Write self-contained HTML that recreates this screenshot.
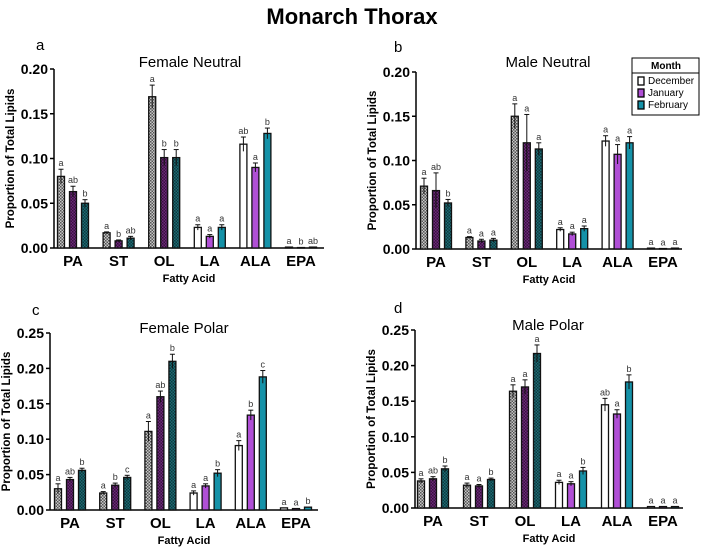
<!DOCTYPE html>
<html><head><meta charset="utf-8"><style>
html,body{margin:0;padding:0;background:#fff;}
svg{display:block;font-family:"Liberation Sans",Arial,sans-serif;}
</style></head><body>
<svg id="chart" width="704" height="548" viewBox="0 0 704 548">
<defs>
<pattern id="pDec" width="3" height="3" patternUnits="userSpaceOnUse"><rect width="3" height="3" fill="#c8c8c8"/><rect width="1.5" height="1.5" fill="#555"/><rect x="1.5" y="1.5" width="1.5" height="1.5" fill="#555"/></pattern>
<pattern id="pJan" width="3" height="3" patternUnits="userSpaceOnUse"><rect width="3" height="3" fill="#6a2a78"/><rect width="1.5" height="1.5" fill="#3a1040"/><rect x="1.5" y="1.5" width="1.5" height="1.5" fill="#3a1040"/></pattern>
<pattern id="pFeb" width="3" height="3" patternUnits="userSpaceOnUse"><rect width="3" height="3" fill="#1e6a72"/><rect width="1.5" height="1.5" fill="#0c3a40"/><rect x="1.5" y="1.5" width="1.5" height="1.5" fill="#0c3a40"/></pattern>
</defs>
<text x="352" y="24" text-anchor="middle" font-size="22" font-weight="bold">Monarch Thorax</text>
<g>
<rect x="632" y="58" width="67" height="57" fill="#fff" stroke="#000" stroke-width="1"/>
<line x1="632" y1="73" x2="699" y2="73" stroke="#000"/>
<text x="666" y="69" text-anchor="middle" font-size="10" font-weight="bold">Month</text>
<rect x="638" y="77" width="6" height="8" fill="#fff" stroke="#000" stroke-width="1.3"/>
<text x="648" y="84" font-size="10">December</text>
<rect x="638" y="89" width="6" height="8" fill="#b04fd6" stroke="#000" stroke-width="1.3"/>
<text x="648" y="96" font-size="10">January</text>
<rect x="638" y="101" width="6" height="8" fill="#1592a8" stroke="#000" stroke-width="1.3"/>
<text x="648" y="108" font-size="10">February</text>
</g>
</svg>
<script>
const categories = ["PA","ST","OL","LA","ALA","EPA"];
const months = ["December","January","February"];
const aVals = [[0.080,0.063,0.050],[0.017,0.008,0.011],[0.169,0.101,0.101],[0.023,0.013,0.023],[0.116,0.090,0.128],[0.001,0.0005,0.001]];
const aErr  = [[0.008,0.006,0.004],[0.001,0.001,0.002],[0.013,0.009,0.009],[0.003,0.002,0.003],[0.008,0.005,0.006],[0,0,0]];
const aLet  = [["a","ab","b"],["a","b","ab"],["a","b","b"],["a","a","a"],["ab","a","b"],["a","b","ab"]];
const bVals = [[0.071,0.066,0.052],[0.013,0.009,0.010],[0.150,0.120,0.113],[0.022,0.017,0.023],[0.122,0.107,0.120],[0.001,0.0005,0.001]];
const bErr  = [[0.009,0.020,0.004],[0.001,0.002,0.002],[0.014,0.032,0.007],[0.002,0.002,0.003],[0.006,0.011,0.007],[0,0,0]];
const bLet  = [["a","ab","b"],["a","a","a"],["a","a","a"],["a","a","a"],["a","a","a"],["a","a","a"]];
const cVals = [[0.030,0.043,0.056],[0.024,0.035,0.046],[0.111,0.160,0.210],[0.024,0.034,0.052],[0.091,0.134,0.188],[0.003,0.002,0.004]];
const cErr  = [[0.007,0.003,0.003],[0.002,0.003,0.003],[0.014,0.008,0.010],[0.003,0.003,0.005],[0.007,0.007,0.009],[0,0,0]];
const cLet  = [["a","ab","b"],["a","b","c"],["a","ab","b"],["a","a","b"],["a","b","c"],["a","a","b"]];
const dVals = [[0.038,0.041,0.055],[0.032,0.031,0.040],[0.164,0.170,0.217],[0.036,0.034,0.052],[0.145,0.132,0.177],[0.002,0.002,0.002]];
const dErr  = [[0.003,0.003,0.004],[0.003,0.002,0.002],[0.009,0.010,0.012],[0.003,0.003,0.005],[0.009,0.006,0.010],[0,0,0]];
const dLet  = [["a","ab","b"],["a","a","b"],["a","a","a"],["a","a","b"],["ab","a","b"],["a","a","a"]];
const ticksNeutral = [0,0.05,0.10,0.15,0.20];
const ticksPolar = [0,0.05,0.10,0.15,0.20,0.25];

const svg = document.getElementById('chart');
const NS = 'http://www.w3.org/2000/svg';
function mk(tag, attrs, parent){const e=document.createElementNS(NS,tag);for(const k in attrs)e.setAttribute(k,attrs[k]);(parent||svg).appendChild(e);return e;}

const satFill = ["url(#pDec)","url(#pJan)","url(#pFeb)"];
const unsatFill = ["#ffffff","#b04fd6","#1592a8"];

function panel(p){
  const g = mk('g',{});
  
  
  const y = v => p.y0 - (v/p.max)*(p.y0-p.yTop);
  const cx = i => p.x0 + p.off + p.step*i;
  const lt = mk('text',{x:p.lx,y:p.ly,'font-size':15},g); lt.textContent=p.letter;
  
  
  const tt = mk('text',{x:p.tx,y:p.ty,'font-size':15,'text-anchor':'middle'},g); tt.textContent=p.title;
  
  
  mk('line',{x1:p.x0,y1:p.yTop,x2:p.x0,y2:p.y0,stroke:'#000','stroke-width':1.5},g);
  mk('line',{x1:p.x0,y1:p.y0,x2:p.x1,y2:p.y0,stroke:'#000','stroke-width':1.5},g);
  p.ticks.forEach(t=>{
    mk('line',{x1:p.x0-4,y1:y(t),x2:p.x0,y2:y(t),stroke:'#000','stroke-width':1.5},g);
    const tl = mk('text',{x:p.x0-6,y:y(t)+5,'font-size':14,'font-weight':'bold','text-anchor':'end'},g);
    tl.textContent = t.toFixed(2);
    
    
  });
  const yt = mk('text',{x:0,y:0,'font-size':11.5,'font-weight':'bold','text-anchor':'middle',transform:`translate(${p.x0-40},${(p.y0+p.yTop)/2}) rotate(-90)`},g);
  yt.textContent='Proportion of Total Lipids';
  
  
  const xt = mk('text',{x:(p.x0+p.x1)/2,y:p.y0+34,'font-size':11,'font-weight':'bold','text-anchor':'middle'},g);
  xt.textContent='Fatty Acid';
  
  
  categories.forEach((c,i)=>{
    const cl = mk('text',{x:cx(i),y:p.y0+18,'font-size':15,'font-weight':'bold','text-anchor':'middle'},g);
    cl.textContent=c;
    
    
    for(let m=0;m<3;m++){
      const v=p.vals[i][m], e=p.err[i][m];
      const bx = cx(i) + (m-1)*12 - 3.5;
      const top = y(v);
      const r = mk('rect',{x:bx,y:top,width:7,height:Math.max(p.y0-top,0.5),fill:(i<3?satFill[m]:unsatFill[m]),stroke:'#111','stroke-width':1.3},g);
      
      
      if(e>0){
        mk('line',{x1:bx+3.5,y1:y(v+e),x2:bx+3.5,y2:y(v-e),stroke:'#111','stroke-width':1},g);
        mk('line',{x1:bx+1,y1:y(v+e),x2:bx+6,y2:y(v+e),stroke:'#111','stroke-width':1},g);
      }
      const lbl = mk('text',{x:bx+3.5,y:y(v+e)-3,'font-size':9,'text-anchor':'middle',fill:'#333'},g);
      lbl.textContent=p.lets[i][m];
      
      
    }
  });
}
panel({name:'panel-female-neutral',letter:'a',title:'Female Neutral',lx:36,ly:50,tx:190,ty:67,x0:54,x1:324,off:19,step:45.6,y0:248,yTop:69,max:0.20,ticks:ticksNeutral,vals:aVals,err:aErr,lets:aLet});
panel({name:'panel-male-neutral',letter:'b',title:'Male Neutral',lx:394,ly:52,tx:548,ty:67,x0:416,x1:682,off:20,step:45.4,y0:249,yTop:72,max:0.20,ticks:ticksNeutral,vals:bVals,err:bErr,lets:bLet});
panel({name:'panel-female-polar',letter:'c',title:'Female Polar',lx:32,ly:315,tx:184,ty:333,x0:50,x1:318,off:20,step:45.2,y0:510,yTop:333,max:0.25,ticks:ticksPolar,vals:cVals,err:cErr,lets:cLet});
panel({name:'panel-male-polar',letter:'d',title:'Male Polar',lx:394,ly:313,tx:548,ty:330,x0:415,x1:683,off:18,step:46,y0:508,yTop:330,max:0.25,ticks:ticksPolar,vals:dVals,err:dErr,lets:dLet});
</script>
</body></html>
